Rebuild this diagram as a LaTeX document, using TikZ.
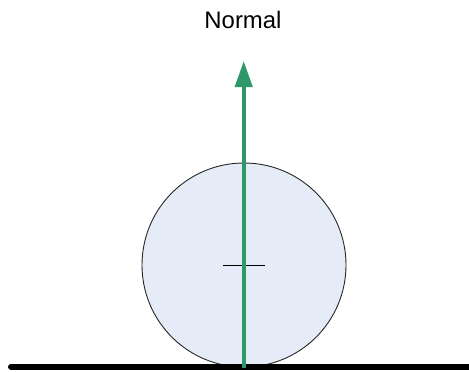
\documentclass[tikz,border=0pt]{standalone}
\usepackage{fontspec}
\setmainfont{Liberation Sans}
\usetikzlibrary{arrows.meta}
\definecolor{ngreen}{RGB}{46,152,104}
\definecolor{cfill}{RGB}{230,236,247}
\begin{document}
\begin{tikzpicture}[x=1bp,y=1bp,
  wheel/.style={draw=black!85,line width=0.9bp,fill=cfill},
  ground/.style={line width=6bp,line cap=round},
  normalarrow/.style={draw=ngreen,line width=4bp,-{Triangle[length=26bp,width=17bp]}},
  tick/.style={line width=1bp},
  lbl/.style={font=\fontsize{24}{28}\selectfont,inner sep=0pt}]
\useasboundingbox (0,0) rectangle (469,371);
\node[wheel,circle,minimum size=204bp,inner sep=0pt] (w) at (244,106) {};
\coordinate (gl) at (11,4.3);
\coordinate (gr) at (475,4.3);
\draw[ground] (gl) -- (gr);
\draw[tick] (223,106) -- (265,106);
\coordinate (ab) at (243.7,3);
\coordinate (at) at (243.7,310);
\draw[normalarrow] (ab) -- (at);
\node[lbl] (n) at (243,351) {Normal};
\end{tikzpicture}
\end{document}
